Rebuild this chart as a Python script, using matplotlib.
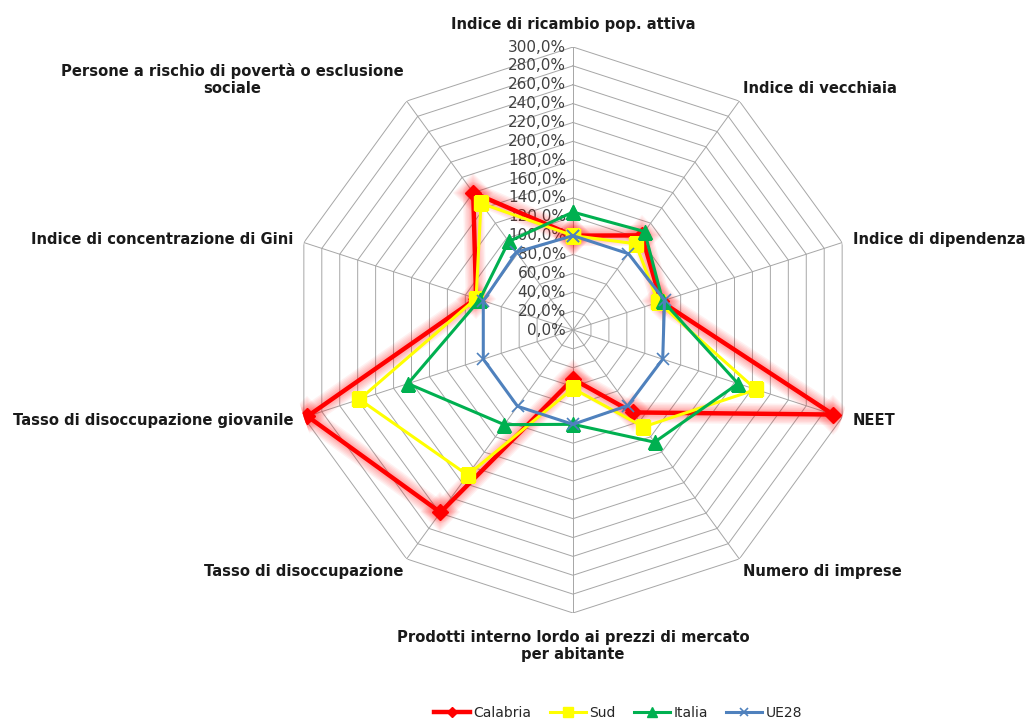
import numpy as np
import matplotlib
matplotlib.use("Agg")
import matplotlib.pyplot as plt
from matplotlib.transforms import offset_copy

categories = [
    "Indice di ricambio pop. attiva",
    "Indice di vecchiaia",
    "Indice di dipendenza",
    "NEET",
    "Numero di imprese",
    "Prodotti interno lordo ai prezzi di mercato\nper abitante",
    "Tasso di disoccupazione",
    "Tasso di disoccupazione giovanile",
    "Indice di concentrazione di Gini",
    "Persone a rischio di povertà o esclusione\nsociale",
]
calabria = [100, 124, 98, 290, 108, 52, 239, 296, 108, 180]
sud = [100, 113, 95, 204, 127, 62, 190, 238, 108, 166]
italia = [125, 129, 100, 184, 147, 100, 124, 184, 104, 116]
ue28 = [100, 100, 102, 100, 99, 100, 100, 100, 100, 102]
rings = list(range(0, 301, 20))
ring_labels = [f"{r},0%" for r in rings]

plt.rcParams["font.family"] = ["DejaVu Sans"]

n = len(categories)
theta = np.arange(n) * 2 * np.pi / n
theta_closed = np.append(theta, theta[0])


def closed(vals):
    return np.append(vals, vals[0])


fig = plt.figure(figsize=(10.31, 7.22), dpi=100)
cx, cy, rad = 573 / 1031, 1 - 330 / 722, 283
ax = fig.add_axes([cx - rad / 1031, cy - rad / 722, 2 * rad / 1031, 2 * rad / 722],
                  projection="polar")
ax.set_theta_zero_location("N")
ax.set_theta_direction(-1)
ax.set_ylim(0, 300)
ax.grid(False)
ax.set_xticks([])
ax.set_yticks([])
ax.spines["polar"].set_visible(False)
ax.patch.set_visible(False)

# polygon grid
grid_col = "#A6A6A6"
for r in rings[1:]:
    ax.plot(theta_closed, [r] * (n + 1), color=grid_col, lw=0.7, zorder=1)
for t in theta:
    ax.plot([t, t], [0, 300], color=grid_col, lw=0.7, zorder=1)

# radial labels along the top spoke
lab_tr = offset_copy(ax.transData, fig=fig, x=-7, y=0, units="dots")
for r, lab in zip(rings, ring_labels):
    ax.text(0, r, lab, transform=lab_tr, ha="right", va="center",
            fontsize=11, color="#404040", zorder=2)

# category labels
aligns = [
    ("center", "bottom", 316),
    ("left", "bottom", 306),
    ("left", "center", 312),
    ("left", "center", 312),
    ("left", "top", 306),
    ("center", "top", 318),
    ("right", "top", 306),
    ("right", "center", 312),
    ("right", "center", 312),
    ("right", "bottom", 306),
]
for t, lab, (ha, va, rr) in zip(theta, categories, aligns):
    ax.text(t, rr, lab, ha=ha, va=va, fontsize=10.6, fontweight="bold",
            multialignment="center", color="#1a1a1a")

# soft red glow around the Calabria series (stacked faint strokes)
for lw in [15, 13, 11, 9, 7, 5.5]:
    ax.plot(theta_closed, closed(calabria), color="#FF0000", lw=lw, alpha=0.055,
            marker="D", markersize=lw + 5, markeredgewidth=0,
            solid_joinstyle="round", solid_capstyle="round", zorder=2.5)

ax.plot(theta_closed, closed(calabria), color="#FF0000", lw=3.2, marker="D",
        markersize=8, label="Calabria", zorder=3)
ax.plot(theta_closed, closed(sud), color="#FFFF00", lw=2.2, marker="s",
        markersize=10, label="Sud", zorder=4)
ax.plot(theta_closed, closed(italia), color="#00B050", lw=2.2, marker="^",
        markersize=10, label="Italia", zorder=5)
ax.plot(theta_closed, closed(ue28), color="#4F81BD", lw=2.2, marker="x",
        markersize=8, markeredgewidth=1.2, label="UE28", zorder=6)

handles, labels = ax.get_legend_handles_labels()
leg = fig.legend(handles, labels, loc="center", ncol=4, frameon=False,
                 bbox_to_anchor=(618 / 1031, 1 - 713 / 722), fontsize=10,
                 handlelength=2.6, columnspacing=1.3, handletextpad=0.25,
                 markerscale=0.7)
for txt in leg.get_texts():
    txt.set_color("#262626")

fig.savefig("out.png", dpi=100)
